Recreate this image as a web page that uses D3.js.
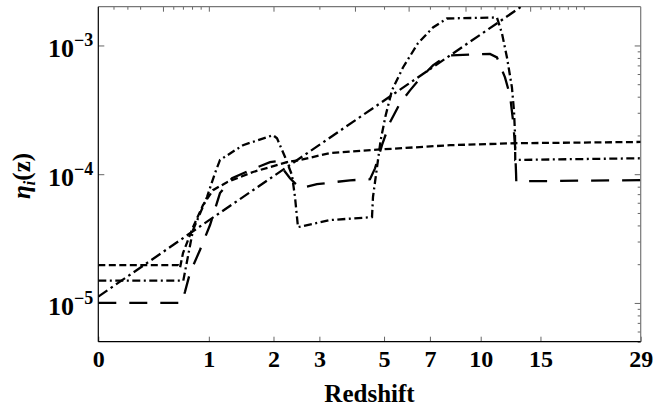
<!DOCTYPE html>
<html><head><meta charset="utf-8">
<script src="https://cdn.jsdelivr.net/npm/d3@7"></script>
<style>
body{margin:0;background:#fff}
text{font-family:"Liberation Serif","Times New Roman",serif;font-weight:bold;fill:#000}
</style>
</head><body>
<svg id="c" width="661" height="405"></svg>
<script>
// ---------- data ----------
const xTickValues = [0, 1, 2, 3, 5, 7, 10, 15, 29];
const xTickLabels = ["0", "1", "2", "3", "5", "7", "10", "15", "29"];
const yTickValues = [1e-5, 1e-4, 1e-3];
const yTickExponents = ["\u22125", "\u22124", "\u22123"];
const topTickMajor = [0.5, 1, 2, 4, 6, 9, 14];
const topTickMinor = [0.1, 0.2, 0.3, 0.6, 0.7, 0.8, 0.9, 3, 5, 7, 8, 10, 11, 12, 15, 16, 17, 18, 19, 20];

// series A (short dashes)
const zA   = [0, 0.648, 0.669, 0.701, 0.811, 0.928, 1.053, 1.241, 1.638, 2.265, 2.542, 3.276, 4.74, 8.07, 12.63, 29];
const etaA = [1.97e-5, 1.97e-5, 1.87e-5, 2.44e-5, 3.88e-5, 5.75e-5, 7.52e-5, 8.67e-5, 1.04e-4, 1.24e-4, 1.29e-4, 1.46e-4, 1.55e-4, 1.68e-4, 1.74e-4, 1.78e-4];

// series C (dash-dot, box shaped)
const zC   = [0, 0.704, 0.811, 0.977, 1.079, 1.145, 1.477, 1.991, 2.067, 2.225, 2.369, 2.433, 2.498, 3.275, 4.564, 4.598, 4.741, 4.874, 5.061, 5.306, 5.757, 6.423, 7.155, 7.904, 11.18, 11.57, 11.97, 12.38, 12.55, 12.64, 12.66, 29];
const etaC = [1.49e-5, 1.49e-5, 3.68e-5, 6.64e-5, 1.02e-4, 1.29e-4, 1.68e-4, 2.01e-4, 1.90e-4, 1.36e-4, 9.83e-5, 6.64e-5, 3.88e-5, 4.40e-5, 4.64e-5, 6.64e-5, 1.13e-4, 1.84e-4, 2.86e-4, 4.48e-4, 6.75e-4, 1.04e-3, 1.38e-3, 1.62e-3, 1.65e-3, 1.24e-3, 8.07e-4, 4.72e-4, 3.13e-4, 2.08e-4, 1.29e-4, 1.33e-4];

// series D (long dashes)
const zD   = [0, 0.687, 0.722, 0.777, 0.892, 1.015, 1.145, 1.313, 1.622, 1.935, 2.067, 2.327, 2.542, 2.94, 3.846, 4.494, 4.669, 4.923, 5.228, 5.631, 6.061, 6.517, 7.155, 7.904, 10.66, 11.18, 11.81, 12.22, 12.47, 12.64, 12.73, 12.75, 29];
const etaD = [1.0e-5, 1.0e-5, 1.22e-5, 1.71e-5, 2.58e-5, 4.03e-5, 7.13e-5, 9.31e-5, 1.09e-4, 1.24e-4, 1.26e-4, 9.31e-5, 7.79e-5, 8.36e-5, 8.97e-5, 9.14e-5, 1.11e-4, 1.68e-4, 2.53e-4, 3.55e-4, 4.48e-4, 5.54e-4, 7.0e-4, 8.36e-4, 8.6e-4, 8.07e-4, 5.65e-4, 4.09e-4, 2.62e-4, 1.68e-4, 1.02e-4, 8.8e-5, 9.0e-5];

// series E (long dash-dot, straight)
const zE   = [0, 1, 3, 7, 13, 14];
const etaE = [1.12e-5, 4.38e-5, 1.69e-4, 6.54e-4, 1.95e-3, 2.23e-3];

// ---------- layout ----------
const L = 98.3, R = 640.7, T = 6.7, B = 341.7;
const svg = d3.select("#c");
const x = d3.scaleLog().domain([1, 30]).range([L, R]);
const y = d3.scaleLog().domain([5e-6, 2e-3]).range([B, T]);

svg.append("defs").append("clipPath").attr("id", "clip")
  .append("rect").attr("x", L).attr("y", T).attr("width", R - L).attr("height", B - T);

// ---------- axes ----------
const tickCol = "#666";
// bottom
const gB = svg.append("g").attr("transform", `translate(0,${B})`)
  .call(d3.axisBottom(x).tickValues(xTickValues.map(v => 1 + v)).tickSize(-5).tickFormat(""));
gB.select(".domain").remove();
gB.selectAll(".tick line").attr("stroke", tickCol);
gB.selectAll(".tick").append("text")
  .attr("y", 25).attr("text-anchor", "middle").style("font-size", "24px")
  .text((d, i) => xTickLabels[i]);
// top
const gT = svg.append("g").attr("transform", `translate(0,${T})`);
gT.append("g").call(d3.axisTop(x).tickValues(topTickMajor.map(v => 1 + v)).tickSize(-5).tickFormat(""))
  .call(g => g.select(".domain").remove()).selectAll("line").attr("stroke", tickCol);
gT.append("g").call(d3.axisTop(x).tickValues(topTickMinor.map(v => 1 + v)).tickSize(-3).tickFormat(""))
  .call(g => g.select(".domain").remove()).selectAll("line").attr("stroke", tickCol);
// left
const gL = svg.append("g").attr("transform", `translate(${L},0)`)
  .call(d3.axisLeft(y).tickValues(yTickValues).tickSize(-6).tickFormat(""));
gL.select(".domain").remove();
gL.selectAll(".tick line").attr("stroke", tickCol);
const lbl = gL.selectAll(".tick").append("text")
  .attr("x", -5).attr("y", 11.5).attr("text-anchor", "end").style("font-size", "26px");
lbl.append("tspan").text("10");
lbl.append("tspan").attr("dy", -11).style("font-size", "18px").text((d, i) => yTickExponents[i]);
// right
const rightMinor = [];
[1e-5, 1e-4, 1e-3].forEach(p => [2,3,4,5,6,7,8,9].forEach(m => { if (m * p < 2e-3 && m * p > 5e-6) rightMinor.push(m * p); }));
[5e-6, 6e-6, 7e-6, 8e-6, 9e-6].forEach(v => rightMinor.push(v));
const gR = svg.append("g").attr("transform", `translate(${R},0)`);
gR.append("g").call(d3.axisRight(y).tickValues(yTickValues).tickSize(-6).tickFormat(""))
  .call(g => g.select(".domain").remove()).selectAll("line").attr("stroke", tickCol);
gR.append("g").call(d3.axisRight(y).tickValues(rightMinor).tickSize(-3).tickFormat(""))
  .call(g => g.select(".domain").remove()).selectAll("line").attr("stroke", tickCol);

// frame
svg.append("line").attr("x1", L).attr("x2", R).attr("y1", T).attr("y2", T).attr("stroke", "#777").attr("stroke-width", 1.2);
svg.append("line").attr("x1", R).attr("x2", R).attr("y1", T).attr("y2", B).attr("stroke", "#777").attr("stroke-width", 1.2);
svg.append("line").attr("x1", L).attr("x2", L).attr("y1", T).attr("y2", B).attr("stroke", "#000").attr("stroke-width", 1.2);
svg.append("line").attr("x1", L).attr("x2", R).attr("y1", B).attr("y2", B).attr("stroke", "#000").attr("stroke-width", 1.2);

// ---------- series ----------
const line = d3.line().x(d => x(1 + d[0])).y(d => y(d[1]));
const series = [
  { z: zA, eta: etaA, dash: "7,3.5" },
  { z: zC, eta: etaC, dash: "8,3.5,2,3.5" },
  { z: zD, eta: etaD, dash: "18,13" },
  { z: zE, eta: etaE, dash: "11,4,2.5,4" }
];
const gS = svg.append("g").attr("clip-path", "url(#clip)");
series.forEach(s => {
  gS.append("path").datum(s.z.map((z, i) => [z, s.eta[i]]))
    .attr("d", line).attr("fill", "none").attr("stroke", "#000")
    .attr("stroke-width", 2.3).attr("stroke-dasharray", s.dash);
});

// ---------- titles ----------
svg.append("text").attr("x", (L + R) / 2).attr("y", 401.5).attr("text-anchor", "middle")
  .style("font-size", "25px").text("Redshift");
const yt = svg.append("text").attr("transform", "translate(30,176) rotate(-90)")
  .attr("text-anchor", "middle").style("font-size", "25px");
yt.append("tspan").style("font-style", "italic").text("\u03b7");
yt.append("tspan").style("font-style", "italic").style("font-size", "17px").attr("dy", 5).text("i");
yt.append("tspan").attr("dy", -5).text("(z)");
</script>
</body></html>
